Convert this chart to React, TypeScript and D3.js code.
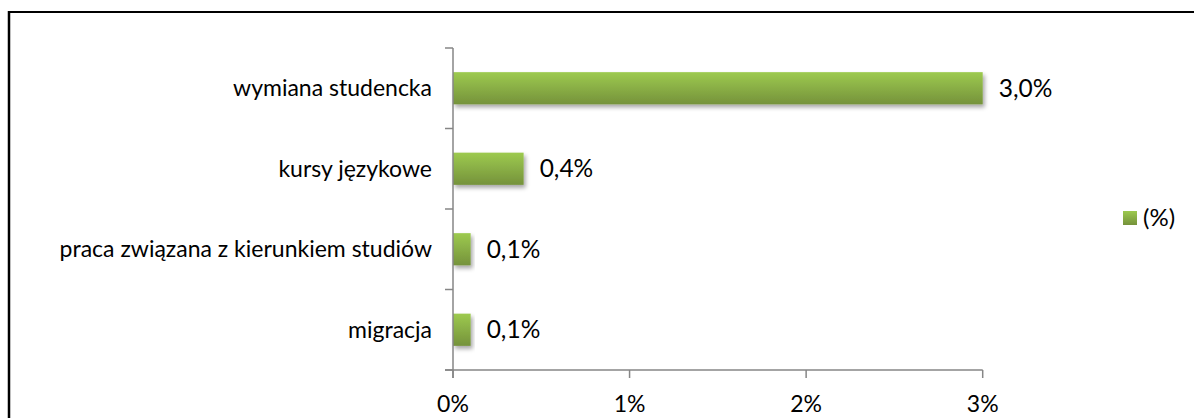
import React from "react";
import * as d3 from "d3";

const categories = ["wymiana studencka", "kursy językowe", "praca związana z kierunkiem studiów", "migracja"];
const values = [3.0, 0.4, 0.1, 0.1];
const valueLabels = ["3,0%", "0,4%", "0,1%", "0,1%"];
const xTicks = [0, 1, 2, 3];
const xTickLabels = ["0%", "1%", "2%", "3%"];
const legendLabel = "(%)";

const W = 1194;
const H = 418;
const FONT = "Lato, 'Open Sans', sans-serif";

export default function App() {
  const x = d3.scaleLinear().domain([0, 3]).range([453, 982.7]);
  const y = d3.scaleBand<string>().domain(categories).range([48, 370]).paddingInner(0.6).paddingOuter(0.3);
  const step = y.step();
  const top = 48;
  const bottom = 370;
  const boundaries = d3.range(categories.length + 1).map((i) => top + i * step);
  const axisColor = "#868686";

  return (
    <svg width={W} height={H} style={{ position: "absolute", left: 0, top: 0, display: "block" }}>
      <defs>
        <linearGradient id="barGrad" x1="0" y1="0" x2="0" y2="1">
          <stop offset="0" stopColor="#9dca4f" />
          <stop offset="1" stopColor="#75923b" />
        </linearGradient>
        <filter id="shadow" x="-10%" y="-30%" width="130%" height="180%">
          <feDropShadow dx="2" dy="3" stdDeviation="2" floodColor="#000" floodOpacity="0.35" />
        </filter>
      </defs>
      <rect x={0} y={0} width={W} height={H} fill="#fff" />
      {/* frame */}
      <line x1={9} y1={12} x2={W} y2={12} stroke="#000" strokeWidth={2} />
      <line x1={9} y1={11} x2={9} y2={H} stroke="#000" strokeWidth={2.5} />

      {/* bars */}
      {categories.map((c, i) => (
        <rect
          key={c}
          x={x(0)}
          y={y(c)!}
          width={x(values[i]) - x(0)}
          height={y.bandwidth()}
          fill="url(#barGrad)"
          filter="url(#shadow)"
        />
      ))}

      {/* y axis */}
      <line x1={x(0)} y1={top} x2={x(0)} y2={bottom + 8} stroke={axisColor} strokeWidth={1.5} />
      {boundaries.map((b, i) => (
        <line key={i} x1={x(0) - 8} y1={b} x2={x(0)} y2={b} stroke={axisColor} strokeWidth={1.5} />
      ))}
      {/* x axis */}
      <line x1={x(0) - 8} y1={bottom} x2={x(3)} y2={bottom} stroke={axisColor} strokeWidth={1.5} />
      {xTicks.map((t) => (
        <line key={t} x1={x(t)} y1={bottom} x2={x(t)} y2={bottom + 8} stroke={axisColor} strokeWidth={1.5} />
      ))}
      {xTicks.map((t, i) => (
        <text key={t} x={x(t)} y={412} textAnchor="middle" fontFamily={FONT} fontSize={23} fill="#000">
          {xTickLabels[i]}
        </text>
      ))}

      {/* category labels */}
      {categories.map((c) => (
        <text
          key={c}
          x={432}
          y={y(c)! + y.bandwidth() / 2}
          dy="0.35em"
          textAnchor="end"
          fontFamily={FONT}
          fontSize={23}
          fill="#000"
        >
          {c}
        </text>
      ))}

      {/* value labels */}
      {categories.map((c, i) => (
        <text
          key={c}
          x={x(values[i]) + 16}
          y={y(c)! + y.bandwidth() / 2}
          dy="0.35em"
          textAnchor="start"
          fontFamily={FONT}
          fontSize={24.5}
          fill="#000"
        >
          {valueLabels[i]}
        </text>
      ))}

      {/* legend */}
      <rect x={1123} y={211} width={14} height={14} fill="url(#barGrad)" />
      <text x={1143} y={218} dy="0.35em" fontFamily={FONT} fontSize={24} fill="#000">
        {legendLabel}
      </text>
    </svg>
  );
}
